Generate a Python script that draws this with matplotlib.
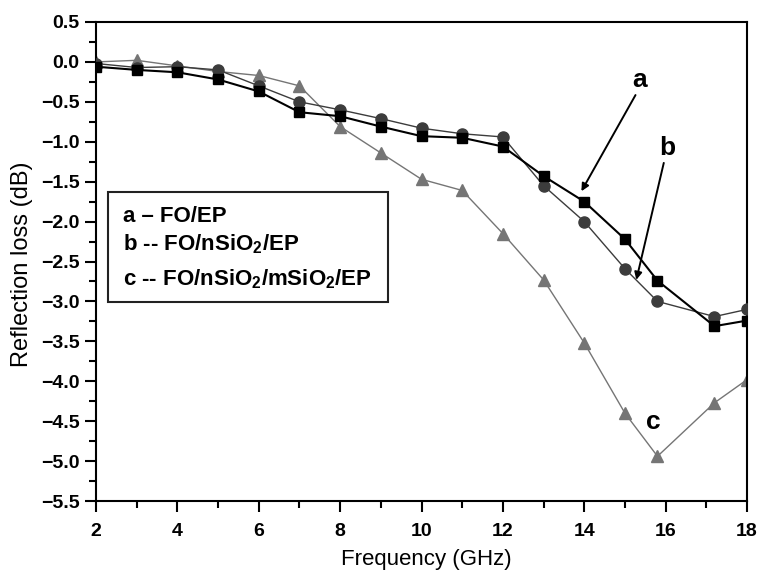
import matplotlib
matplotlib.use("Agg")
import matplotlib.pyplot as plt
from matplotlib.ticker import MultipleLocator, FuncFormatter
from matplotlib.patches import Rectangle

plt.rcParams['font.family'] = ['Liberation Sans', 'DejaVu Sans']
plt.rcParams['mathtext.fontset'] = 'custom'
plt.rcParams['mathtext.rm'] = 'Liberation Sans'
plt.rcParams['mathtext.bf'] = 'Liberation Sans:bold'

freq = [2, 3, 4, 5, 6, 7, 8, 9, 10, 11, 12, 13, 14, 15, 15.8, 17.2, 18]
rl_a = [-0.06, -0.10, -0.13, -0.22, -0.37, -0.63, -0.68, -0.81, -0.93, -0.95, -1.06,
        -1.43, -1.75, -2.22, -2.74, -3.31, -3.24]
rl_b = [-0.02, -0.07, -0.06, -0.10, -0.30, -0.50, -0.60, -0.71, -0.83, -0.90, -0.94,
        -1.55, -2.00, -2.59, -3.00, -3.19, -3.10]
rl_c = [0.00, 0.02, -0.05, -0.12, -0.17, -0.30, -0.81, -1.14, -1.47, -1.61, -2.15,
        -2.73, -3.52, -4.40, -4.94, -4.27, -3.98]

legend_lines = ["a \u2013 FO/EP",
                "b -- FO/nSiO$_\\mathbf{2}$/EP",
                "c -- FO/nSiO$_\\mathbf{2}$/mSiO$_\\mathbf{2}$/EP"]

W, H = 758, 573
fig = plt.figure(figsize=(W/100, H/100), dpi=100)
L, R, T, B = 96, 747, 22, 501
ax = fig.add_axes([L/W, 1 - B/H, (R-L)/W, (B-T)/H])

def fx(px):
    return (px - L) / (R - L)

def fy(py):
    return (B - py) / (B - T)

ax.plot(freq, rl_c, color='#757575', lw=1.0, marker='^', ms=9, zorder=2)
ax.plot(freq, rl_b, color='#3c3c3c', lw=1.0, marker='o', ms=8, zorder=3)
ax.plot(freq, rl_a, color='#000000', lw=1.5, marker='s', ms=7.5, zorder=4)

ax.set_xlim(2, 18)
ax.set_ylim(-5.5, 0.5)
ax.xaxis.set_major_locator(MultipleLocator(2))
ax.xaxis.set_minor_locator(MultipleLocator(1))
ax.yaxis.set_major_locator(MultipleLocator(0.5))
ax.yaxis.set_minor_locator(MultipleLocator(0.25))
ax.yaxis.set_major_formatter(FuncFormatter(
    lambda v, p: ("%.1f" % v).replace('-', '\u2212')))

for s in ax.spines.values():
    s.set_linewidth(1.5)
ax.tick_params(which='major', direction='out', length=8, width=1.5, labelsize=14)
ax.tick_params(which='minor', direction='out', length=5, width=1.5)
ax.tick_params(axis='x', which='major', pad=8)
ax.tick_params(axis='y', which='major', pad=4)
for lab in ax.get_xticklabels() + ax.get_yticklabels():
    lab.set_fontweight('bold')

ax.set_xlabel("Frequency (GHz)", fontsize=16, va='center')
ax.set_ylabel("Reflection loss (dB)", fontsize=17, va='center')
ax.xaxis.set_label_coords(fx(426), fy(560))
ax.yaxis.set_label_coords(fx(22), fy(264))

# legend box
baselines = [222, 250, 285]
for txt, b in zip(legend_lines, baselines):
    ax.text(fx(123), fy(b), txt, transform=ax.transAxes, fontsize=16,
            fontweight='bold', va='baseline', ha='left', zorder=5)
ax.add_patch(Rectangle((fx(108), fy(302)), fx(388) - fx(108), fy(192) - fy(302),
                       transform=ax.transAxes, fill=False, lw=1.5, ec='#222222',
                       zorder=5))

arrow = dict(arrowstyle='-|>', color='black', lw=1.4, mutation_scale=11,
             shrinkA=0, shrinkB=0)
ax.annotate("a", xy=(13.93, -1.62), xytext=(15.37, -0.23), fontsize=19,
            fontweight='bold', ha='center', va='center',
            arrowprops=dict(arrow, relpos=(0.3, 0.0)))
ax.annotate("b", xy=(15.28, -2.73), xytext=(16.05, -1.08), fontsize=19,
            fontweight='bold', ha='center', va='center',
            arrowprops=dict(arrow, relpos=(0.3, 0.0)))
ax.text(15.69, -4.51, "c", fontsize=19, fontweight='bold', ha='center', va='center')

fig.savefig("out.png", dpi=100)
